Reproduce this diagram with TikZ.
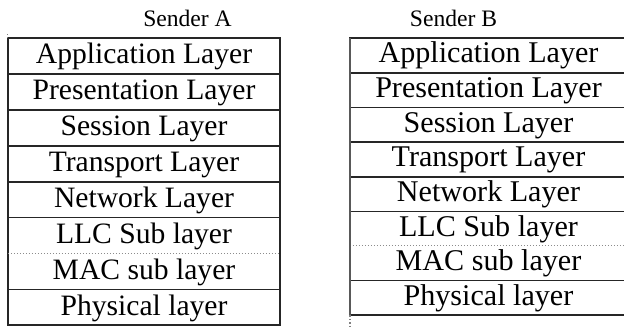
\documentclass[tikz,border=0pt]{standalone}
\usepackage{fontspec}
\setmainfont{Liberation Serif}
\begin{document}
\begin{tikzpicture}[x=1pt,y=-1pt,
 grid/.style={draw=black!85,line width=1.6pt},
 sepline/.style={draw=black!45,line width=1pt,dotted},
 cellA/.style={inner sep=0pt,minimum width=272pt,minimum height=35.875pt,text height=22pt,text depth=6pt,font=\fontsize{29.6}{30}\selectfont},
 cellB/.style={inner sep=0pt,minimum width=277pt,minimum height=34.625pt,text height=21.5pt,text depth=6.3pt,font=\fontsize{30.1}{31}\selectfont},
 title/.style={inner sep=0pt,anchor=base,font=\fontsize{23.6}{24}\selectfont}]
\useasboundingbox (0,0) rectangle (624,327);
% titles
\node[title] (ta) at (187.5,26) {Sender A};
\node[title] (tb) at (453.5,26) {Sender B};
% left table
\node[cellA] (a1) at (144,55.94) {Application Layer};
\node[cellA] (a2) at (144,91.81) {Presentation Layer};
\node[cellA] (a3) at (144,127.69) {Session Layer};
\node[cellA] (a4) at (144,163.56) {Transport Layer};
\node[cellA] (a5) at (144,199.44) {Network Layer};
\node[cellA] (a6) at (144,235.31) {LLC Sub layer};
\node[cellA] (a7) at (144,271.19) {MAC sub layer};
\node[cellA] (a8) at (144,307.06) {Physical layer};
\draw[grid] (a1.north west) rectangle (a8.south east);
\foreach \n in {a1,a2,a3,a4,a5,a7}{\draw[grid] (\n.south west) -- (\n.south east);}
\draw[sepline] (a6.south west) -- (a6.south east);
\draw[dotted,black!50,line width=1pt] (a1.north west) -- ++(0,-6);
% right table
\node[cellB] (b1) at (488.5,55.31) {Application Layer};
\node[cellB] (b2) at (488.5,89.94) {Presentation Layer};
\node[cellB] (b3) at (488.5,124.56) {Session Layer};
\node[cellB] (b4) at (488.5,159.19) {Transport Layer};
\node[cellB] (b5) at (488.5,193.81) {Network Layer};
\node[cellB] (b6) at (488.5,228.44) {LLC Sub layer};
\node[cellB] (b7) at (488.5,263.06) {MAC sub layer};
\node[cellB] (b8) at (488.5,297.69) {Physical layer};
\draw[grid] (b1.north west) rectangle (b8.south east);
\foreach \n in {b1,b2,b3,b4,b5,b7}{\draw[grid] (\n.south west) -- (\n.south east);}
\draw[sepline] (b6.south west) -- (b6.south east);
\draw[draw=black!65,line width=2.2pt] (b1.north west) -- (b8.south west);
\draw[dotted,black!50,line width=1.5pt] (b8.south west) -- ++(0,12);
\end{tikzpicture}
\end{document}
